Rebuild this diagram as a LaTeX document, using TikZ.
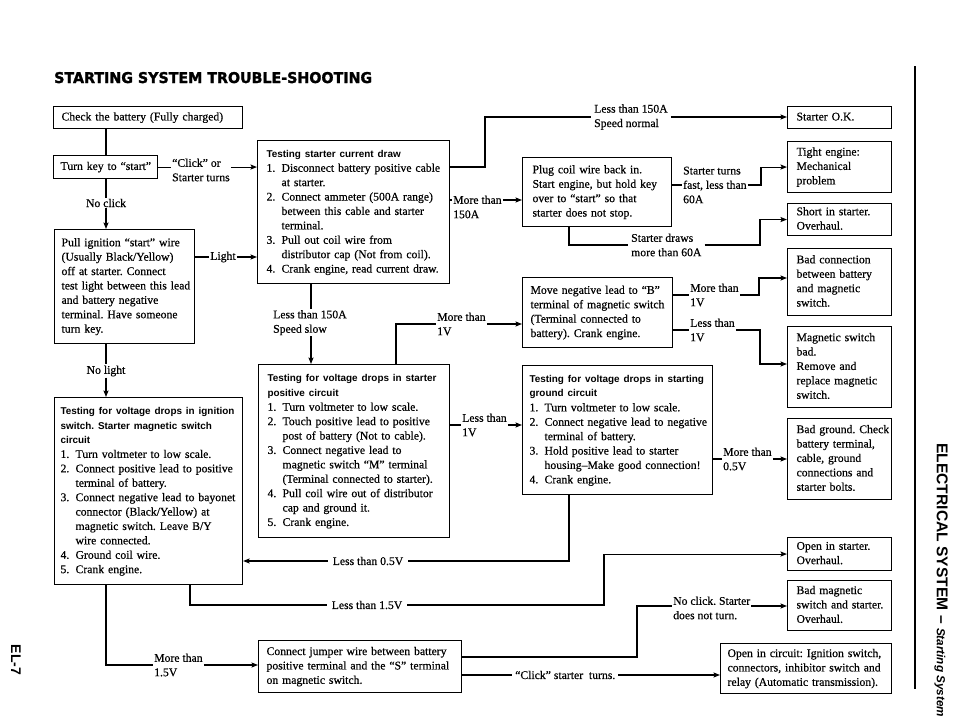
\documentclass[tikz,border=0pt]{standalone}
\usepackage{fontspec}
\setmainfont{Liberation Serif}[FakeBold=0.4]
\newfontfamily\sansf{Liberation Sans}
\newfontfamily\titlef{DejaVu Sans}[FakeBold=1.6]
\usetikzlibrary{arrows.meta}
\setlength\parindent{0pt}
\frenchspacing
\newlength\nbw \setlength\nbw{15pt}
\newcommand\inum[1]{\makebox[\nbw][l]{#1}}
\newcommand\icont{\hspace*{\nbw}}
\newcommand\bodyf{\fontsize{11.7}{14.4}\selectfont\frenchspacing}
\newcommand\hdg[1]{{\sansf\bfseries\fontsize{9.9}{14.4}\selectfont #1}}
\newcommand\lines[1]{\begin{tabular}{@{}l@{}}#1\end{tabular}}
\tikzset{
 ln/.style={line width=1.1pt},
 ar/.style={line width=1.1pt,-{Stealth[length=6.5pt,width=5pt,inset=1.2pt]}},
 bx/.style={draw,line width=1.1pt,anchor=north west,align=left,inner ysep=0pt,font=\bodyf},
 rbx/.style={bx,text width=86pt,inner xsep=9pt},
 lb/.style={inner sep=1pt,align=left,font=\bodyf},
 gap/.style={inner xsep=5pt},
}
\begin{document}
\begin{tikzpicture}[x=1pt,y=-1pt]
\useasboundingbox[fill=white] (0,0) rectangle (960,725);

% title and side texts
\node[anchor=base west,inner sep=0pt] (title) at (54,83) {\resizebox{318pt}{11pt}{\titlef\bfseries STARTING SYSTEM TROUBLE-SHOOTING}};
\node[rotate=-90,anchor=west,inner sep=0pt] (side) at (941,443) {\resizebox{274pt}{!}{\sansf\bfseries\fontsize{16}{16}\selectfont ELECTRICAL SYSTEM – {\itshape\fontsize{12}{12}\selectfont Starting System}}};
\node[rotate=-90,inner sep=0pt] (page) at (16,660) {\sansf\bfseries\fontsize{14}{14}\selectfont EL-7};
\draw[line width=1.2pt] (915,66) -- (915,689);

% left column boxes
\node[bx,text width=173pt,inner xsep=8pt,minimum height=22pt] (b1) at (53,106) {\lines{Check the battery (Fully charged)}};
\node[bx,text width=90pt,inner xsep=7pt,minimum height=23pt] (b2) at (53,155) {\lines{Turn key to “start”}};
\node[bx,text width=126pt,inner xsep=7pt,minimum height=114pt] (b3) at (54,229) {\lines{Pull ignition “start” wire\\(Usually Black/Yellow)\\off at starter. Connect\\test light between this lead\\and battery negative\\terminal. Have someone\\turn key.}};
\node[bx,text width=176pt,inner xsep=6pt,minimum height=187pt] (b4) at (54,397) {\lines{\hdg{Testing for voltage drops in ignition}\\\hdg{switch. Starter magnetic switch}\\\hdg{circuit}\\\inum{1.}Turn voltmeter to low scale.\\\inum{2.}Connect positive lead to positive\\\icont terminal of battery.\\\inum{3.}Connect negative lead to bayonet\\\icont connector (Black/Yellow) at\\\icont magnetic switch. Leave B/Y\\\icont wire connected.\\\inum{4.}Ground coil wire.\\\inum{5.}Crank engine.}};

% middle boxes
\node[bx,text width=174pt,inner xsep=9pt,minimum height=143pt] (b5) at (257,140) {\lines{\hdg{Testing starter current draw}\\\inum{1.}Disconnect battery positive cable\\\icont at starter.\\\inum{2.}Connect ammeter (500A range)\\\icont between this cable and starter\\\icont terminal.\\\inum{3.}Pull out coil wire from\\\icont distributor cap (Not from coil).\\\inum{4.}Crank engine, read current draw.}};
\node[bx,text width=173pt,inner xsep=9pt,minimum height=173pt] (b6) at (258,364) {\lines{\hdg{Testing for voltage drops in starter}\\\hdg{positive circuit}\\\inum{1.}Turn voltmeter to low scale.\\\inum{2.}Touch positive lead to positive\\\icont post of battery (Not to cable).\\\inum{3.}Connect negative lead to\\\icont magnetic switch “M” terminal\\\icont (Terminal connected to starter).\\\inum{4.}Pull coil wire out of distributor\\\icont cap and ground it.\\\inum{5.}Crank engine.}};
\node[bx,text width=187pt,inner xsep=8pt,minimum height=52pt] (b10) at (258,640) {\lines{Connect jumper wire between battery\\positive terminal and the “S” terminal\\on magnetic switch.}};
\node[bx,text width=129pt,inner xsep=10pt,minimum height=69pt] (b7) at (522,157) {\lines{Plug coil wire back in.\\Start engine, but hold key\\over to “start” so that\\starter does not stop.}};
\node[bx,text width=134pt,inner xsep=8pt,minimum height=70pt] (b8) at (522,277) {\lines{Move negative lead to “B”\\terminal of magnetic switch\\(Terminal connected to\\battery). Crank engine.}};
\node[bx,text width=176pt,inner xsep=7pt,minimum height=129pt] (b9) at (522,365) {\lines{\hdg{Testing for voltage drops in starting}\\\hdg{ground circuit}\\\inum{1.}Turn voltmeter to low scale.\\\inum{2.}Connect negative lead to negative\\\icont terminal of battery.\\\inum{3.}Hold positive lead to starter\\\icont housing–Make good connection!\\\inum{4.}Crank engine.}};

% right column boxes
\node[rbx,minimum height=22pt] (r1) at (787,106) {\lines{Starter O.K.}};
\node[rbx,minimum height=51pt] (r2) at (787,141) {\lines{Tight engine:\\Mechanical\\problem}};
\node[rbx,minimum height=32pt] (r3) at (787,203) {\lines{Short in starter.\\Overhaul.}};
\node[rbx,minimum height=67pt] (r4) at (787,248) {\lines{Bad connection\\between battery\\and magnetic\\switch.}};
\node[rbx,minimum height=81pt] (r5) at (787,326) {\lines{Magnetic switch\\bad.\\Remove and\\replace magnetic\\switch.}};
\node[rbx,minimum height=81pt] (r6) at (787,418) {\lines{Bad ground. Check\\battery terminal,\\cable, ground\\connections and\\starter bolts.}};
\node[rbx,minimum height=33pt] (r7) at (787,537) {\lines{Open in starter.\\Overhaul.}};
\node[rbx,minimum height=50pt] (r8) at (787,580) {\lines{Bad magnetic\\switch and starter.\\Overhaul.}};
\node[bx,text width=157pt,inner xsep=7pt,minimum height=50pt] (r9) at (720,643) {\lines{Open in circuit: Ignition switch,\\connectors, inhibitor switch and\\relay (Automatic transmission).}};

% labels
\node[lb] (lnoclick) at (106,203) {No click};
\node[lb] (lnolight) at (106,371) {No light};
\node[lb,anchor=west] (lclick) at (171,170) {“Click” or\\Starter turns};
\node[lb] (llight) at (223,257) {Light};
\node[lb,anchor=west] (lmt15) at (153,665) {More than\\1.5V};
\node[lb,gap] (llt15) at (367,605) {Less than 1.5V};
\node[lb,gap] (llt05) at (368,561) {Less than 0.5V};
\node[lb,anchor=west,inner xsep=3pt] (lsn) at (591,117) {Less than 150A\\Speed normal};
\node[lb,anchor=west] (lmt150) at (452,207) {More than\\150A};
\node[lb,anchor=west] (lstf) at (682,185) {Starter turns\\fast, less than\\60A};
\node[lb,anchor=west,inner xsep=3pt] (lsd) at (628,245) {Starter draws\\more than 60A};
\node[lb,anchor=north west] (lls) at (272,309) {Less than 150A\\Speed slow};
\node[lb,anchor=west] (lmt1a) at (436,324) {More than\\1V};
\node[lb,anchor=west] (llt1a) at (461,425) {Less than\\1V};
\node[lb,anchor=west] (lmt1b) at (689,295) {More than\\1V};
\node[lb,anchor=west] (llt1b) at (689,330) {Less than\\1V};
\node[lb,anchor=west] (lmt05) at (722,459) {More than\\0.5V};
\node[lb,anchor=west] (lnc) at (672,608) {No click. Starter\\does not turn.};
\node[lb,anchor=west,inner xsep=3pt] (lcst) at (512,675) {“Click” starter\ \ turns.};

% junction columns
\coordinate (xa) at (106,0);
\coordinate (xb) at (190,0);
\coordinate (xc) at (604,0);
\coordinate (xd) at (569,0);
\coordinate (xe) at (485,0);
\coordinate (xf) at (761,0);
\coordinate (xg) at (760,0);
\coordinate (xh) at (396,0);
\coordinate (xi) at (311,0);
\coordinate (xj) at (637,0);
\coordinate (xk) at (759,0);

% connectors
\draw[ln] (b1.south -| xa) -- (b2.north -| xa);
\draw[ln] (b2.south -| xa) -- (lnoclick.north);
\draw[ar] (lnoclick.south) -- (b3.north -| xa);
\draw[ln] (b3.south -| xa) -- (lnolight.north);
\draw[ar] (lnolight.south) -- (b4.north -| xa);
\draw[ln] (b2.east) -- (b2.east -| lclick.west);
\draw[ar] (b2.east -| lclick.east) -- (b2.east -| b5.west);
\draw[ln] (b3.east |- llight) -- (llight.west);
\draw[ar] (llight.east) -- (b5.west |- llight);
\draw[ln] (b4.south -| xa) -- (xa |- lmt15) -- (lmt15.west);
\draw[ar] (lmt15.east) -- (b10.west |- lmt15);
\draw[ln] (b4.south -| xb) -- (xb |- llt15) -- (llt15.west);
\draw[ar] (llt15.east) -- (xc |- llt15) -- (xc |- r7.west) -- (r7.west);
\draw[ln] (b9.south -| xd) -- (xd |- llt05) -- (llt05.east);
\draw[ar] (llt05.west) -- (b4.east |- llt05);
\draw[ln] (b5.east |- 0,167) -- (xe |- 0,167) -- (xe |- lsn) -- (lsn.west);
\draw[ar] (lsn.east) -- (r1.west |- lsn);
\draw[ln] (b5.east |- 0,200) -- (lmt150.west |- 0,200);
\draw[ar] (lmt150.east |- 0,200) -- (b7.west |- 0,200);
\draw[ln] (b7.east |- lstf) -- (lstf.west);
\draw[ar] (lstf.east) -- (xf |- lstf) -- (xf |- r2.west) -- (r2.west);
\draw[ln] (b7.south -| xd) -- (xd |- lsd) -- (lsd.west);
\draw[ar] (lsd.east) -- (xg |- lsd) -- (xg |- r3.west) -- (r3.west);
\draw[ln] (b5.south -| xi) -- (xi |- lls.north);
\draw[ar] (xi |- lls.south) -- (xi |- b6.north);
\draw[ln] (b6.north -| xh) -- (xh |- lmt1a) -- (lmt1a.west);
\draw[ar] (lmt1a.east) -- (b8.west |- lmt1a);
\draw[ln] (b6.east |- llt1a) -- (llt1a.west);
\draw[ar] (llt1a.east) -- (b9.west |- llt1a);
\draw[ln] (b8.east |- lmt1b) -- (lmt1b.west);
\draw[ar] (lmt1b.east) -- (xk |- lmt1b) -- (xk |- 0,278) -- (r4.west |- 0,278);
\draw[ln] (b8.east |- llt1b) -- (llt1b.west);
\draw[ar] (llt1b.east) -- (xg |- llt1b) -- (xg |- 0,364) -- (r5.west |- 0,364);
\draw[ln] (b9.east |- lmt05) -- (lmt05.west);
\draw[ar] (lmt05.east) -- (r6.west |- lmt05);
\draw[ln] (b10.east |- 0,657) -- (xj |- 0,657) -- (xj |- 0,606) -- (lnc.west |- 0,606);
\draw[ar] (lnc.east |- 0,606) -- (r8.west |- 0,606);
\draw[ln] (b10.east |- lcst) -- (lcst.west);
\draw[ar] (lcst.east) -- (r9.west |- lcst);
\end{tikzpicture}
\end{document}
